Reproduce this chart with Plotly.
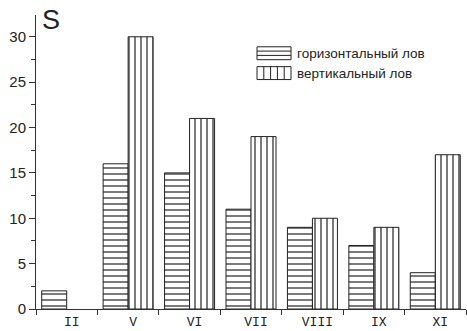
import plotly.graph_objects as go

# Months of sampling (Roman numerals) and catch counts for the two methods
months = ["II", "V", "VI", "VII", "VIII", "IX", "XI"]
horizontal_catch = [2, 16, 15, 11, 9, 7, 4]
vertical_catch = [0, 30, 21, 19, 10, 9, 17]
y_ticks = [0, 5, 10, 15, 20, 25, 30]
series_names = ["горизонтальный лов", "вертикальный лов"]

INK = "#222"


def outline_widths(values):
    # empty bars get no outline so that a zero count leaves no mark
    return [1 if v > 0 else 0 for v in values]


fig = go.Figure()
for name, values, shape in [(series_names[0], horizontal_catch, "-"),
                            (series_names[1], vertical_catch, "|")]:
    fig.add_trace(go.Bar(
        x=months, y=values, name=name, showlegend=False,
        marker=dict(color="white",
                    line=dict(color=INK, width=outline_widths(values)),
                    pattern=dict(shape=shape, size=6, solidity=0.2,
                                 fgcolor=INK, bgcolor="white", fillmode="replace")),
    ))

fig.update_layout(
    width=467, height=331,
    margin=dict(l=36, r=1, t=15, b=20),
    paper_bgcolor="white", plot_bgcolor="white",
    barmode="group", bargap=0.186, bargroupgap=0,
    font=dict(family="Liberation Sans, Arial", color=INK),
)
fig.update_xaxes(
    type="category", showline=True, linecolor="#333", linewidth=1,
    ticks="outside", tickson="boundaries", ticklen=5, tickcolor="#333",
    tickfont=dict(family="Liberation Mono, DejaVu Sans Mono", size=13, color=INK),
    ticklabelshift=5, showgrid=False, zeroline=False,
)
fig.update_yaxes(
    range=[0, 32.4], showline=True, linecolor="#333", linewidth=1,
    tickvals=y_ticks, ticks="outside", ticklen=6, tickcolor="#333",
    tickfont=dict(size=15, color=INK),
    minor=dict(dtick=2.5, tick0=2.5, ticks="outside", ticklen=4, tickcolor="#333", showgrid=False),
    showgrid=False, zeroline=False,
)

# Legend keys: hatched boxes drawn in pixel-sized paper units
W, H = 467, 331
plot_l, plot_b = 36, 20
plot_w, plot_h = W - 36 - 1, H - 15 - 20


def px(x):
    return (x - plot_l) / plot_w


def py(y):
    return (H - plot_b - y) / plot_h


key_x0, key_x1 = 257, 291
keys = [(47, 60, "-", series_names[0]), (67, 80, "|", series_names[1])]
for y0, y1, shape, label in keys:
    path = f"M{px(key_x0)},{py(y0)} H{px(key_x1)} V{py(y1)} H{px(key_x0)} Z"
    if shape == "-":
        for k in (1, 2):
            yy = y0 + (y1 - y0) * k / 3
            path += f" M{px(key_x0)},{py(yy)} H{px(key_x1)}"
    else:
        for k in (1, 2, 3, 4):
            xx = key_x0 + (key_x1 - key_x0) * k / 5
            path += f" M{px(xx)},{py(y0)} V{py(y1)}"
    fig.add_shape(type="path", xref="paper", yref="paper", path=path,
                  line=dict(color=INK, width=1), fillcolor="white")
    fig.add_annotation(text=label, xref="paper", yref="paper",
                       x=px(295), y=py((y0 + y1) / 2 + 0.5), xanchor="left", yanchor="middle",
                       showarrow=False, font=dict(size=13.5, color=INK))

fig.add_annotation(text="S", xref="paper", yref="paper", x=px(40), y=py(3),
                   xanchor="left", yanchor="top", showarrow=False,
                   font=dict(size=27, color=INK, family="Liberation Sans, Arial"))

fig.write_html("out.html")
